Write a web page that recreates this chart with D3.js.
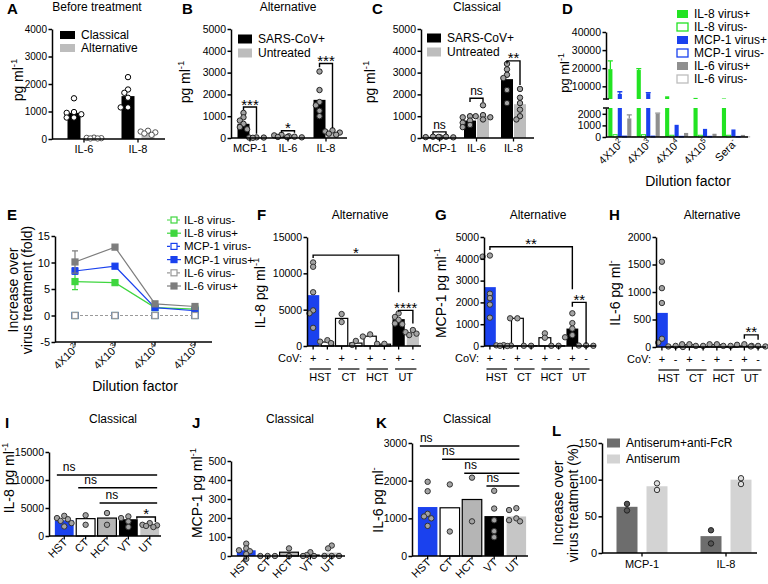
<!DOCTYPE html>
<html>
<head>
<meta charset="utf-8">
<script src="https://cdn.jsdelivr.net/npm/d3@7"></script>
<style>
  body { margin: 0; background: #fff; }
</style>
</head>
<body>
<svg id="fig" width="768" height="584"></svg>
<script>
// ---------------- data ----------------
// A: before treatment
var aCats = ["IL-6", "IL-8"];
var aClassicalMean = [950, 1560];
var aClassicalPts = [[1480, 980, 950, 900, 780, 780], [2250, 1800, 1680, 1500, 1150, 1150]];
var aAlternativeMean = [30, 200];
var aAlternativePts = [[50, 40, 30, 20, 20], [300, 270, 240, 200, 150]];

// B: alternative, C: classical
var bcCats = ["MCP-1", "IL-6", "IL-8"];
var bCovMean = [650, 100, 1750];
var bCovPts = [[1150, 950, 800, 650, 500, 400], [150, 120, 80, 50], [3050, 2200, 1650, 1500, 1250, 1000]];
var bUntMean = [20, 40, 220];
var bUntPts = [[30, 20, 20, 10], [60, 40, 30], [350, 300, 250, 200, 150]];
var bSig = [[1420, 1280, 200, "***"], [330, 240, 240, "*"], [3420, 3250, 450, "***"]];

var cCovMean = [50, 800, 2700];
var cCovPts = [[60, 40, 30], [1000, 950, 800, 700, 600, 500], [3400, 3150, 2900, 2750, 2200, 1600]];
var cUntMean = [50, 1000, 1550];
var cUntPts = [[60, 50, 30], [1500, 1050, 1000, 950, 850], [2250, 1850, 1600, 1300, 1000, 850]];
var cSig = [[280, 180, 180, "ns"], [1820, 1650, 1650, "ns"], [3540, 3420, 2430, "**"]];

// D: dilution series (broken axis)
var dGroupBase = ["4X10", "4X10", "4X10", "4X10", "Sera"];
var dGroupSup = ["2", "3", "4", "5", "-"];
var dSeries = ["IL-8 virus+", "IL-8 virus-", "MCP-1 virus+", "MCP-1 virus-", "IL-6 virus+", "IL-6 virus-"];
var dIl8Pos = [19500, 19000, 4500, 3600, 3300];
var dIl8Neg = [200, 200, 150, 150, 150];
var dMcpPos = [5800, 6200, 1050, 700, 650];
var dMcpNeg = [80, 80, 60, 60, 50];
var dIl6Pos = [1600, 2000, 350, 280, 180];
var dIl6Neg = [40, 40, 30, 30, 30];
var dIl8PosErr = [4500, 800, 0, 0, 0];
var dMcpPosErr = [1200, 300, 0, 0, 0];
var dIl6PosErr = [300, 50, 0, 0, 0];

// E: fold increase
var eSup = ["2", "3", "4", "5"];
var eIl8Neg = [0, 0, 0, 0];
var eIl8Pos = [6.4, 6.2, 1.5, 1.2];
var eMcpNeg = [0, 0, 0, 0];
var eMcpPos = [8.4, 9.3, 1.5, 0.9];
var eIl6Neg = [0, 0, 0, 0];
var eIl6Pos = [10.1, 12.9, 2.2, 1.7];
var eIl8PosErr = [1.5, 0, 0, 0];
var eMcpPosErr = [0.6, 0, 0, 0];
var eIl6PosErr = [2.1, 0, 0, 0];

// F, G, H: alternative, +/- CoV
var covGroups = ["HST", "CT", "HCT", "UT"];
var covSigns = ["+", "-", "+", "-", "+", "-", "+", "-"];
var fMean = [7000, 550, 3800, 400, 1350, 250, 3700, 1900];
var fPts = [[11500, 10900, 7400, 4900, 4500, 2500], [800, 600, 400], [4400, 3300], [700, 150], [1600, 1300], [300, 300], [4500, 4000, 3600, 3100, 3000], [2200, 1900, 1700, 1500]];
var fSig = [[0, 6, 12500, 12100, 7400, "*"], [6, 7, 4900, 4700, 3100, "****"]];
var gMean = [2700, 30, 1270, 10, 380, 10, 800, 20];
var gPts = [[4150, 4100, 2400, 2200, 1900, 1300], [40, 30, 20, 10, 0], [1270, 1270], [10, 10], [580, 380], [10, 10], [1500, 1050, 800, 500, 400], [30, 20, 10]];
var gSig = [[0, 6, 4550, 4400, 2600, "**"], [6, 7, 2000, 1800, 100, "**"]];
var hMean = [620, 10, 40, 10, 40, 10, 30, 10];
var hPts = [[1550, 1070, 800, 150, 80], [20, 10, 0], [50, 50], [20, 20], [50, 50], [20, 20], [50, 40, 20], [20, 10, 10]];
var hSig = [[6, 7, 220, 150, 130, "**"]];

// I, J, K: classical
var ijkCats = ["HST", "CT", "HCT", "VT", "UT"];
var iMean = [2800, 3100, 3200, 3000, 2000];
var iPts = [[3600, 3200, 3000, 2700, 2300, 1700], [3700, 2000], [4100, 2000], [3500, 3200, 2600, 1600], [2300, 2000, 1900, 1800, 1600]];
var iNs = [[0, 4, 10900], [1, 4, 8600], [2, 4, 5900]];
var iStar = [3, 4, 3400, 3100, 2500, "*"];
var jMean = [30, 0, 20, 8, 18];
var jPts = [[65, 40, 30, 25, 10, -15], [0, 0, 0], [40, 0], [20, 5, 0, 0], [55, 40, 0, 0, 0]];
var kMean = [1300, 1280, 1500, 1060, 1050];
var kPts = [[1970, 1720, 1120, 1050, 1000, 800], [1900, 650], [2080, 920], [1730, 1260, 950, 660, 500], [1270, 1220, 1000, 950, 920]];
var kNs = [[0, 4, 2920], [1, 4, 2570], [2, 4, 2200], [3, 4, 1860]];

// L: antiserum
var lCats = ["MCP-1", "IL-8"];
var lFcrMean = [63, 23];
var lFcrPts = [[67, 58], [31, 13]];
var lAntiMean = [91, 100];
var lAntiPts = [[95, 86], [94, 102]];

// ---------------- style ----------------
var FONT = "'Liberation Sans', Arial, Helvetica, sans-serif";
var BLUE = "#1a41ee";
var GREEN = "#22e322";
var GRAYBAR = "#bdbdbd";
var DOT = "#a3a3a3";
var ijkFills = [BLUE, "#fff", "#b5b5b5", "#000", "#c6c6c6"];
var ijkStrokes = [null, "#000", "#000", null, null];
var covFills = [BLUE, "#fff", "#fff", "#fff", "#fff", "#fff", "#000", "#c4c4c4"];
var covStrokes = [null, "#000", "#000", "#000", "#000", "#000", null, null];

var svg = d3.select("#fig").attr("font-family", FONT);

// ---------------- helpers ----------------
function yAxis(x, y, ticks, fs) {
  var g = svg.append("g").attr("transform", "translate(" + x + ",0)")
    .call(d3.axisLeft(y).tickValues(ticks).tickSize(3.5).tickSizeOuter(0).tickPadding(1.5)
      .tickFormat(function(d) { return String(d); }));
  g.attr("font-family", FONT).attr("font-size", fs || 10.5);
  g.select(".domain").attr("stroke-width", 1.5);
  g.selectAll(".tick line").attr("stroke-width", 1.5);
  g.selectAll(".tick text").attr("fill", "#000");
  return g;
}

function xAxis(x0, x1, y0, tickXs) {
  svg.append("line").attr("x1", x0).attr("x2", x1).attr("y1", y0).attr("y2", y0)
    .attr("stroke", "#000").attr("stroke-width", 1.5);
  svg.append("g").selectAll("line").data(tickXs).join("line")
    .attr("x1", function(d) { return d; }).attr("x2", function(d) { return d; })
    .attr("y1", y0).attr("y2", y0 + 3.5).attr("stroke", "#000").attr("stroke-width", 1.3);
}

function txt(x, y, s, size, anchor, weight) {
  return svg.append("text").attr("x", x).attr("y", y).attr("font-size", size || 11)
    .attr("text-anchor", anchor || "middle").attr("font-weight", weight || "normal").text(s);
}

function supText(sel, base, sup, size) {
  sel.append("tspan").text(base);
  if (sup) {
    sel.append("tspan").attr("dy", -size * 0.4).attr("font-size", size * 0.68).text(sup);
  }
  return sel;
}

function vLabel(x, y, base, sup, size) {
  var t = svg.append("text").attr("transform", "translate(" + x + "," + y + ") rotate(-90)")
    .attr("text-anchor", "middle").attr("font-size", size);
  return supText(t, base, sup, size);
}

function rotLabels(xs, labels, y0) {
  labels.forEach(function(l, i) {
    svg.append("text").attr("transform", "translate(" + (xs[i] + 4) + "," + (y0 + 7) + ") rotate(-45)")
      .attr("text-anchor", "end").attr("font-size", 11).text(l);
  });
}

function bars(g, rows, y) {
  g.selectAll(null).data(rows).join("rect")
    .attr("x", function(d) { return d.cx - d.w / 2; })
    .attr("width", function(d) { return d.w; })
    .attr("y", function(d) { return Math.min(y(d.v), y(0)); })
    .attr("height", function(d) { return Math.abs(y(0) - y(d.v)); })
    .attr("fill", function(d) { return d.fill; })
    .attr("stroke", function(d) { return d.stroke || "none"; })
    .attr("stroke-width", 1.2);
}

// compact deterministic scatter: nudge sideways only when points collide
function swarm(vals, y, r) {
  var placed = [];
  var step = r * 1.35, minD = r * 1.6;
  var cands = [0, -1, 1, -2, 2];
  return vals.map(function(v) {
    var py = y(v), best = 0, bestD = -1;
    for (var k = 0; k < cands.length; k++) {
      var cx = cands[k] * step;
      var d = placed.reduce(function(m, p) { return Math.min(m, Math.hypot(p[0] - cx, p[1] - py)); }, Infinity);
      if (d >= minD) { best = cx; break; }
      if (d > bestD) { bestD = d; best = cx; }
    }
    placed.push([best, py]);
    return [best, py];
  });
}

function dots(g, cx, y, vals, fill, stroke) {
  var r = 2.7;
  var pos = swarm(vals, y, r);
  g.append("g").selectAll("circle").data(pos).join("circle")
    .attr("cx", function(d) { return cx + d[0]; })
    .attr("cy", function(d) { return d[1]; })
    .attr("r", r).attr("fill", fill).attr("stroke", stroke).attr("stroke-width", 1);
}

function bracket(x1, x2, yl, y1, y2, label) {
  svg.append("path")
    .attr("d", "M" + x1 + "," + y1 + "V" + yl + "H" + x2 + "V" + y2)
    .attr("fill", "none").attr("stroke", "#000").attr("stroke-width", 1.4);
  if (label === "ns") txt((x1 + x2) / 2, yl - 3, label, 12);
  else txt((x1 + x2) / 2, yl + 2.5, label, 15);
}

function legend(x, ys, items, w, h, size) {
  items.forEach(function(it, i) {
    svg.append("rect").attr("x", x).attr("y", ys[i] - h / 2).attr("width", w).attr("height", h)
      .attr("fill", it.fill).attr("stroke", it.stroke || "none").attr("stroke-width", 1.3);
    txt(x + w + 6, ys[i] + 4, it.label, size, "start");
  });
}

// ---------------- panel letters & titles ----------------
[["A", 7, 14], ["B", 182, 14], ["C", 372, 14], ["D", 562, 14],
 ["E", 7, 220], ["F", 257, 220], ["G", 435, 220], ["H", 609, 220],
 ["I", 5, 428], ["J", 192, 428], ["K", 376, 428], ["L", 552, 436]].forEach(function(p) {
  txt(p[1], p[2], p[0], 15, "start", "bold");
});
txt(97, 11, "Before treatment", 12);
txt(288, 11, "Alternative", 12);
txt(477, 11, "Classical", 12);
txt(360, 219, "Alternative", 12);
txt(538, 219, "Alternative", 12);
txt(712, 219, "Alternative", 12);
txt(113, 423, "Classical", 12);
txt(290, 423, "Classical", 12);
txt(467, 423, "Classical", 12);

// ---------------- A ----------------
(function() {
  var y = d3.scaleLinear().domain([0, 4000]).range([139, 29]);
  var x = d3.scalePoint().domain(aCats).range([84, 138]);
  var off = d3.scalePoint().domain(["Classical", "Alternative"]).range([-10, 10]);
  var g = svg.append("g");
  var rows = [];
  aCats.forEach(function(c, i) {
    rows.push({cx: x(c) + off("Classical"), w: 13, v: aClassicalMean[i], fill: "#000"});
    rows.push({cx: x(c) + off("Alternative"), w: 13, v: aAlternativeMean[i], fill: GRAYBAR});
  });
  bars(g, rows, y);
  aCats.forEach(function(c, i) {
    dots(g, x(c) + off("Classical"), y, aClassicalPts[i], "#fff", "#000");
    dots(g, x(c) + off("Alternative"), y, aAlternativePts[i], "#fff", "#555");
  });
  yAxis(52, y, [0, 1000, 2000, 3000, 4000], 10);
  xAxis(52, 165, y(0), aCats.map(x));
  aCats.forEach(function(c) { txt(x(c), 153, c, 11); });
  legend(60, [35, 48], [{label: "Classical", fill: "#000"}, {label: "Alternative", fill: GRAYBAR}], 15, 8, 12);
  vLabel(23, 80, "pg ml", "-1", 14);
})();

// ---------------- B & C ----------------
function twoSeriesPanel(x0, x1, covMean, covPts, untMean, untPts, sig, legX, legYs, labX) {
  var y = d3.scaleLinear().domain([0, 5000]).range([138, 29]);
  var x = d3.scaleBand().domain(bcCats).range([x0, x1]);
  var cx = function(c) { return x(c) + x.bandwidth() / 2; };
  var g = svg.append("g");
  var rows = [];
  bcCats.forEach(function(c, i) {
    rows.push({cx: cx(c) - 6.5, w: 12, v: covMean[i], fill: "#000"});
    rows.push({cx: cx(c) + 6.5, w: 12, v: untMean[i], fill: GRAYBAR});
  });
  bars(g, rows, y);
  bcCats.forEach(function(c, i) {
    dots(g, cx(c) - 6.5, y, covPts[i], DOT, "#222");
    dots(g, cx(c) + 6.5, y, untPts[i], DOT, "#222");
  });
  yAxis(x0, y, [0, 1000, 2000, 3000, 4000, 5000]);
  xAxis(x0, x1 + 2, y(0), bcCats.map(cx));
  bcCats.forEach(function(c) { txt(cx(c), 152, c, 11); });
  bcCats.forEach(function(c, i) {
    var s = sig[i];
    bracket(cx(c) - 6.5, cx(c) + 6.5, y(s[0]), y(s[1]), y(s[2]), s[3]);
  });
  legend(legX, legYs, [{label: "SARS-CoV+", fill: "#000"}, {label: "Untreated", fill: GRAYBAR}], 14, 9, 12);
  vLabel(labX, 82, "pg ml", "-1", 14);
}
twoSeriesPanel(231, 345, bCovMean, bCovPts, bUntMean, bUntPts, bSig, 238, [39, 53], 190);
twoSeriesPanel(421, 532, cCovMean, cCovPts, cUntMean, cUntPts, cSig, 427, [38, 52], 375);

// ---------------- D ----------------
(function() {
  var yLo = d3.scaleLinear().domain([0, 2500]).range([137, 108]);
  var yHi = d3.scaleLinear().domain([3000, 40000]).range([99, 32]);
  var x = d3.scaleBand().domain(d3.range(5)).range([608, 750]);
  var sub = d3.scaleBand().domain(dSeries).range([0, x.bandwidth()]);
  var vals = [dIl8Pos, dIl8Neg, dMcpPos, dMcpNeg, dIl6Pos, dIl6Neg];
  var errs = [dIl8PosErr, null, dMcpPosErr, null, dIl6PosErr, null];
  var fills = [GREEN, "#fff", BLUE, "#fff", "#8f8f8f", "#fff"];
  var strokes = [null, GREEN, null, BLUE, null, "#bdbdbd"];
  var g = svg.append("g");
  dSeries.forEach(function(s, si) {
    vals[si].forEach(function(v, gi) {
      var bx = x(gi) + sub(s) + 0.3, bw = sub.bandwidth() - 0.6;
      var lo = Math.min(v, 2500);
      g.append("rect").attr("x", bx).attr("width", bw)
        .attr("y", yLo(lo)).attr("height", yLo(0) - yLo(lo))
        .attr("fill", fills[si]).attr("stroke", strokes[si] || "none").attr("stroke-width", 1);
      if (v > 3000) {
        g.append("rect").attr("x", bx).attr("width", bw)
          .attr("y", yHi(v)).attr("height", yHi(3000) - yHi(v))
          .attr("fill", fills[si]);
      }
      if (errs[si] && errs[si][gi] > 0) {
        var top = v + errs[si][gi];
        var ys = v > 3000 ? yHi : yLo;
        var xm = bx + bw / 2;
        g.append("path").attr("d", "M" + xm + "," + ys(v) + "V" + ys(top) + "M" + (xm - 2.5) + "," + ys(top) + "H" + (xm + 2.5))
          .attr("stroke", fills[si]).attr("stroke-width", 1.3).attr("fill", "none");
      }
    });
  });
  yAxis(606, yLo, [0, 1000, 2000]);
  yAxis(606, yHi, [10000, 20000, 30000, 40000]);
  [99, 108].forEach(function(yy) {
    svg.append("line").attr("x1", 603).attr("x2", 609).attr("y1", yy).attr("y2", yy)
      .attr("stroke", "#000").attr("stroke-width", 1.5);
  });
  xAxis(606, 748, yLo(0), []);
  dGroupBase.forEach(function(b, i) {
    var t = svg.append("text")
      .attr("transform", "translate(" + (x(i) + x.bandwidth() / 2 + 2) + "," + 144 + ") rotate(-45)")
      .attr("text-anchor", "end").attr("font-size", 11);
    supText(t, b, dGroupSup[i], 11);
  });
  txt(688, 186, "Dilution factor", 14);
  vLabel(569, 73, "pg ml", "-1", 13);
  legend(677, [14, 27, 40, 53, 66, 79], dSeries.map(function(s, i) {
    return {label: s, fill: fills[i], stroke: strokes[i]};
  }), 11, 8, 12);
})();

// ---------------- E ----------------
(function() {
  var x = d3.scalePoint().domain(d3.range(4)).range([75, 195]);
  var y = d3.scaleLinear().domain([-5, 15]).range([342, 236]);
  var series = [
    {name: "IL-8 virus-", v: eIl8Neg, c: "#3fd63f", open: true},
    {name: "IL-8 virus+", v: eIl8Pos, c: "#3fd63f", open: false, e: eIl8PosErr},
    {name: "MCP-1 virus-", v: eMcpNeg, c: "#1a41ee", open: true},
    {name: "MCP-1 virus+", v: eMcpPos, c: "#1a41ee", open: false, e: eMcpPosErr},
    {name: "IL-6 virus-", v: eIl6Neg, c: "#9a9a9a", open: true},
    {name: "IL-6 virus+", v: eIl6Pos, c: "#7d7d7d", open: false, e: eIl6PosErr}
  ];
  var line = d3.line().x(function(d, i) { return x(i); }).y(function(d) { return y(d); });
  var g = svg.append("g");
  series.forEach(function(s) {
    if (s.e) {
      s.e.forEach(function(e, i) {
        if (e > 0) {
          g.append("path").attr("d", "M" + x(i) + "," + y(s.v[i] - e) + "V" + y(s.v[i] + e) +
            "M" + (x(i) - 3) + "," + y(s.v[i] + e) + "H" + (x(i) + 3) +
            "M" + (x(i) - 3) + "," + y(s.v[i] - e) + "H" + (x(i) + 3))
            .attr("stroke", s.c).attr("stroke-width", 1.2).attr("fill", "none");
        }
      });
    }
    g.append("path").attr("d", line(s.v)).attr("fill", "none").attr("stroke", s.c)
      .attr("stroke-width", 1.2).attr("stroke-dasharray", s.open ? "3,2" : null);
    g.append("g").selectAll("rect").data(s.v).join("rect")
      .attr("x", function(d, i) { return x(i) - 3; }).attr("y", function(d) { return y(d) - 3; })
      .attr("width", 6).attr("height", 6)
      .attr("fill", s.open ? "#fff" : s.c).attr("stroke", s.c).attr("stroke-width", 1.2);
  });
  yAxis(55, y, [-5, 0, 5, 10, 15], 11);
  xAxis(55, 212, y(-5), d3.range(4).map(x));
  eSup.forEach(function(sp, i) {
    var t = svg.append("text")
      .attr("transform", "translate(" + (x(i) + 4) + "," + 349 + ") rotate(-45)")
      .attr("text-anchor", "end").attr("font-size", 11);
    supText(t, "4X10", sp, 11);
  });
  txt(135, 391, "Dilution factor", 14);
  vLabel(18, 290, "Increase over", null, 14);
  vLabel(32, 290, "virus treatment (fold)", null, 14);
  series.forEach(function(s, i) {
    var yy = 220 + i * 13.2;
    svg.append("line").attr("x1", 167).attr("x2", 181).attr("y1", yy).attr("y2", yy)
      .attr("stroke", s.c).attr("stroke-width", 1.2).attr("stroke-dasharray", s.open ? "3,2" : null);
    svg.append("rect").attr("x", 171).attr("y", yy - 3).attr("width", 6).attr("height", 6)
      .attr("fill", s.open ? "#fff" : s.c).attr("stroke", s.c).attr("stroke-width", 1.2);
    txt(184, yy + 4, s.name, 11.5, "start");
  });
})();

// ---------------- F, G, H ----------------
function covPanel(x0, x1, xEnd, y, ticks, means, pts, sig, labX, labText, labSup) {
  var xb = d3.scaleBand().domain(d3.range(8)).range([x0, x1]).paddingInner(0.14).paddingOuter(0);
  var cx = function(i) { return xb(i) + xb.bandwidth() / 2; };
  var g = svg.append("g");
  bars(g, means.map(function(v, i) {
    return {cx: cx(i), w: xb.bandwidth(), v: v, fill: covFills[i], stroke: covStrokes[i]};
  }), y);
  pts.forEach(function(p, i) { dots(g, cx(i), y, p, DOT, "#333"); });
  yAxis(x0, y, ticks);
  xAxis(x0, xEnd, y(0), d3.range(8).map(cx));
  var rowY = y(0) + 16;
  txt(x0 - 5, rowY, "CoV:", 11, "end");
  covSigns.forEach(function(s, i) { txt(cx(i), rowY, s, 11); });
  covGroups.forEach(function(name, k) {
    var m = (cx(2 * k) + cx(2 * k + 1)) / 2, half = xb.step() * 0.75;
    svg.append("line").attr("x1", m - half).attr("x2", m + half).attr("y1", rowY + 7).attr("y2", rowY + 7)
      .attr("stroke", "#000").attr("stroke-width", 1.2);
    txt(m, rowY + 19, name, 11);
  });
  sig.forEach(function(b) {
    bracket(cx(b[0]), cx(b[1]), y(b[2]), y(b[3]), y(b[4]), b[5]);
  });
  vLabel(labX, 293, labText, labSup, 14);
}
covPanel(307, 419, 421, d3.scaleLinear().domain([0, 15000]).range([346, 237]),
  [0, 5000, 10000, 15000], fMean, fPts, fSig, 265, "IL-8 pg ml", "-1");
covPanel(484, 592, 596, d3.scaleLinear().domain([0, 5000]).range([346, 237]),
  [0, 1000, 2000, 3000, 4000, 5000], gMean, gPts, gSig, 446, "MCP-1 pg ml", "-1");
covPanel(656, 764, 766, d3.scaleLinear().domain([0, 2000]).range([347, 237]),
  [0, 500, 1000, 1500, 2000], hMean, hPts, hSig, 620, "IL-6 pg ml", "-");

// ---------------- I, J, K ----------------
function classicalPanel(x0, x1, xEnd, y, ticks, means, pts, labX, labY, labText, labSup) {
  var x = d3.scaleBand().domain(d3.range(5)).range([x0, x1]).paddingInner(0.12).paddingOuter(0.04);
  var cx = function(i) { return x(i) + x.bandwidth() / 2; };
  var g = svg.append("g");
  bars(g, means.map(function(v, i) {
    return {cx: cx(i), w: x.bandwidth(), v: v, fill: ijkFills[i], stroke: ijkStrokes[i]};
  }), y);
  pts.forEach(function(p, i) { dots(g, cx(i), y, p, DOT, "#333"); });
  var axisX = x0 - 5;
  yAxis(axisX, y, ticks);
  xAxis(axisX, xEnd, y(0), d3.range(5).map(cx));
  rotLabels(d3.range(5).map(cx), ijkCats, y(0));
  vLabel(labX, labY, labText, labSup, 14);
  return {cx: cx, bw: x.bandwidth()};
}
(function() {
  var y = d3.scaleLinear().domain([0, 15000]).range([536, 452]);
  var p = classicalPanel(54, 160, 161, y, [0, 5000, 10000, 15000], iMean, iPts, 14, 478, "IL-8 pg ml", "-1");
  iNs.forEach(function(n) {
    var xs = p.cx(n[0]) - p.bw / 2 + 2, xe = p.cx(n[1]) + p.bw / 2 - 2;
    svg.append("line").attr("x1", xs).attr("x2", xe).attr("y1", y(n[2])).attr("y2", y(n[2]))
      .attr("stroke", "#000").attr("stroke-width", 1.5);
    txt(xs + 6, y(n[2]) - 4, "ns", 12, "start");
  });
  bracket(p.cx(iStar[0]) + p.bw * 0.45, p.cx(iStar[1]) + p.bw * 0.3, y(iStar[2]), y(iStar[3]), y(iStar[4]), iStar[5]);
})();
(function() {
  var y = d3.scaleLinear().domain([0, 500]).range([556, 461]);
  classicalPanel(236, 342, 345, y, [0, 100, 200, 300, 400, 500], jMean, jPts, 202, 493, "MCP-1 pg ml", "-1");
})();
(function() {
  var y = d3.scaleLinear().domain([0, 3000]).range([556, 443]);
  var p = classicalPanel(417, 527, 528, y, [0, 1000, 2000, 3000], kMean, kPts, 383, 500, "IL-6 pg ml", "-");
  kNs.forEach(function(n) {
    var xs = p.cx(n[0]) - p.bw / 2 + 2, xe = p.cx(n[1]) + 3;
    svg.append("line").attr("x1", xs).attr("x2", xe).attr("y1", y(n[2])).attr("y2", y(n[2]))
      .attr("stroke", "#000").attr("stroke-width", 1.5);
    txt(xs, y(n[2]) - 4, "ns", 12, "start");
  });
})();

// ---------------- L ----------------
(function() {
  var y = d3.scaleLinear().domain([0, 150]).range([553, 443]);
  var x = d3.scalePoint().domain(lCats).range([642, 726]);
  var g = svg.append("g");
  var rows = [];
  lCats.forEach(function(c, i) {
    rows.push({cx: x(c) - 15, w: 21, v: lFcrMean[i], fill: "#6d6d6d"});
    rows.push({cx: x(c) + 15, w: 21, v: lAntiMean[i], fill: "#d3d3d3"});
  });
  bars(g, rows, y);
  lCats.forEach(function(c, i) {
    dots(g, x(c) - 15, y, lFcrPts[i], "#555", "#222");
    dots(g, x(c) + 15, y, lAntiPts[i], "#e0e0e0", "#333");
  });
  yAxis(602, y, [0, 50, 100, 150], 11);
  xAxis(602, 757, y(0), lCats.map(x));
  lCats.forEach(function(c) { txt(x(c), 568, c, 11); });
  legend(607, [443, 459], [{label: "Antiserum+anti-FcR", fill: "#6d6d6d"}, {label: "Antiserum", fill: "#d3d3d3"}], 13, 9, 12);
  vLabel(563, 503, "Increase over", null, 14);
  vLabel(578, 503, "virus treatment (%)", null, 14);
})();
</script>
</body>
</html>
